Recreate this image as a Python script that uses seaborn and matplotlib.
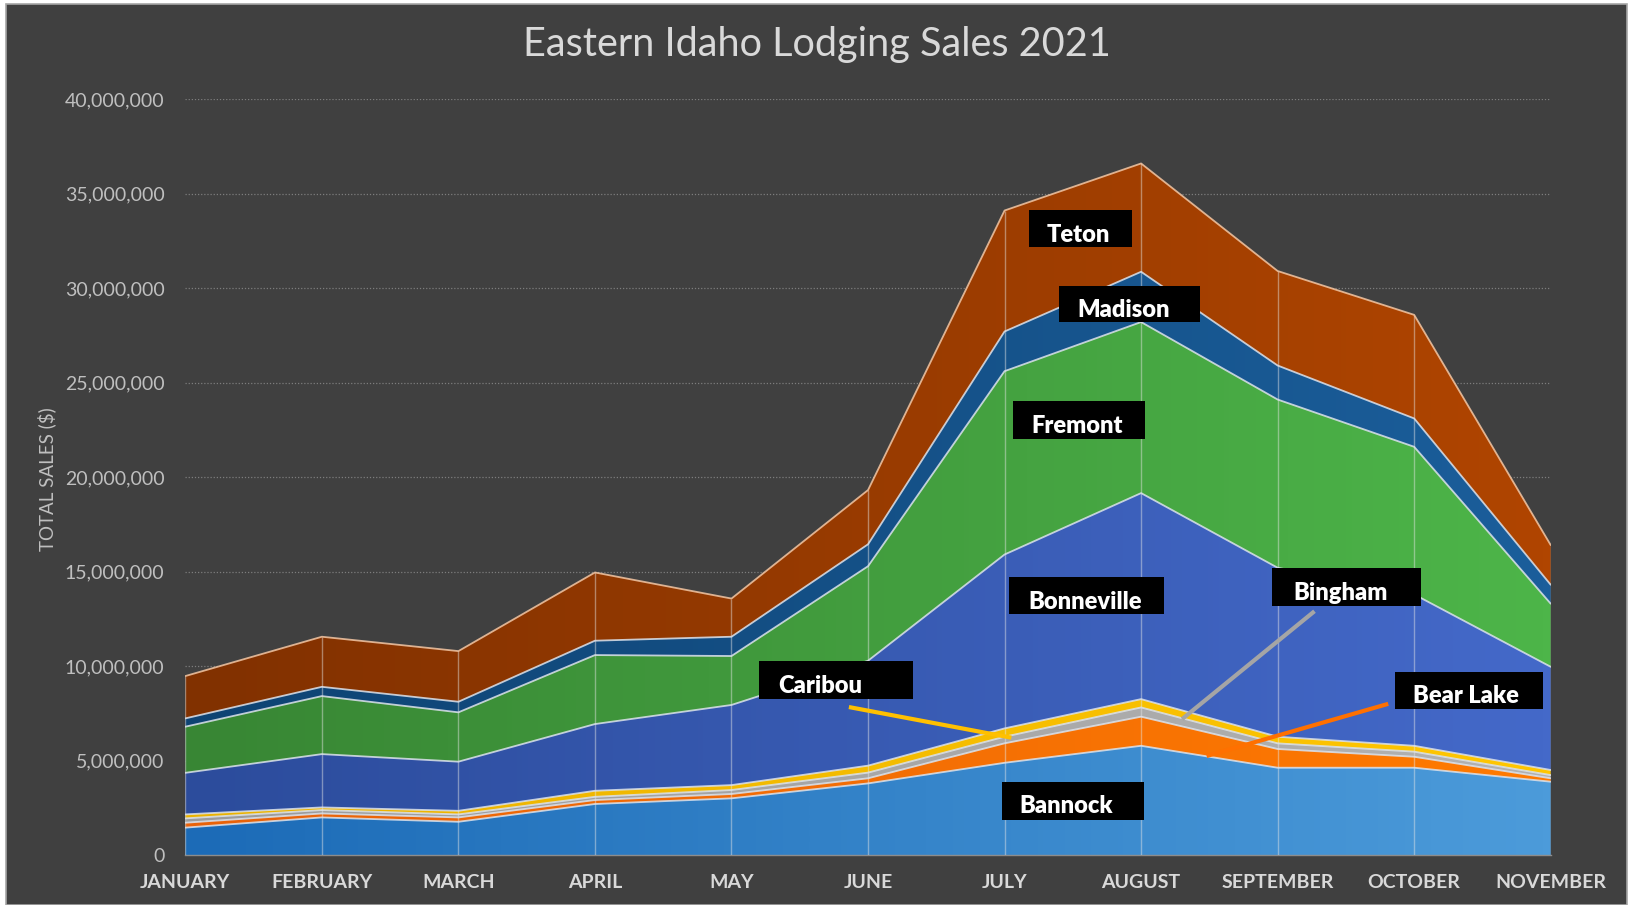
import numpy as np
import pandas as pd
import seaborn as sns
import matplotlib
matplotlib.use("Agg")
import matplotlib.pyplot as plt
from matplotlib.patches import Rectangle, Polygon
from matplotlib.colors import LinearSegmentedColormap
from matplotlib.ticker import FuncFormatter, MultipleLocator

# monthly lodging sales per county (millions of $)
months = ["JANUARY", "FEBRUARY", "MARCH", "APRIL", "MAY", "JUNE",
          "JULY", "AUGUST", "SEPTEMBER", "OCTOBER", "NOVEMBER"]
bannock = [1.45, 1.99, 1.76, 2.70, 3.00, 3.79, 4.88, 5.78, 4.62, 4.62, 3.88]
bear_lake = [0.26, 0.21, 0.23, 0.21, 0.23, 0.27, 1.03, 1.54, 0.99, 0.58, 0.18]
bingham = [0.23, 0.18, 0.16, 0.17, 0.21, 0.30, 0.35, 0.49, 0.30, 0.27, 0.17]
caribou = [0.21, 0.14, 0.19, 0.32, 0.26, 0.37, 0.44, 0.44, 0.35, 0.31, 0.27]
bonneville = [2.20, 2.82, 2.60, 3.53, 4.24, 5.55, 9.20, 10.90, 8.94, 8.01, 5.46]
fremont = [2.44, 3.07, 2.61, 3.65, 2.59, 5.00, 9.70, 9.05, 8.90, 7.81, 3.34]
madison = [0.44, 0.49, 0.56, 0.76, 1.02, 1.16, 2.10, 2.66, 1.80, 1.50, 1.00]
teton = [2.24, 2.65, 2.68, 3.61, 2.02, 2.87, 6.40, 5.73, 5.00, 5.48, 2.10]

counties = ["Bannock", "Bear Lake", "Bingham", "Caribou",
            "Bonneville", "Fremont", "Madison", "Teton"]
series = [bannock, bear_lake, bingham, caribou, bonneville, fremont, madison, teton]

# gradient colours (left -> right), like the Excel fill
grad_colors = {
    "Bannock": ("#1c6bb7", "#4c9bda"),
    "Bear Lake": ("#e8620a", "#ff7a00"),
    "Bingham": ("#9c9c9c", "#b2b2b2"),
    "Caribou": ("#eab200", "#ffc600"),
    "Bonneville": ("#2c4c9c", "#4469c9"),
    "Fremont": ("#388634", "#4db549"),
    "Madison": ("#0e4373", "#1b5e9b"),
    "Teton": ("#813100", "#b04500"),
}

# label boxes: (name, box x0, x1, y0, y1, text x, text y) in month index / millions
labels = [
    ("Teton", 6.18, 6.93, 32.17, 34.15, 6.54, 32.8),
    ("Madison", 6.40, 7.43, 28.19, 30.12, 6.87, 28.86),
    ("Fremont", 6.06, 7.03, 22.01, 24.00, 6.53, 22.68),
    ("Bonneville", 6.03, 7.17, 12.74, 14.73, 6.59, 13.41),
    ("Bingham", 7.96, 9.05, 13.19, 15.17, 8.46, 13.85),
    ("Caribou", 4.20, 5.33, 8.28, 10.26, 4.65, 8.94),
    ("Bear Lake", 8.86, 9.94, 7.72, 9.71, 9.38, 8.39),
    ("Bannock", 5.98, 7.02, 1.88, 3.86, 6.45, 2.59),
]
# leader lines: (x0, y0, x1, y1, colour)
leaders = [
    (4.86, 7.83, 6.05, 6.21, "#ffc000"),
    (8.27, 12.9, 7.30, 7.19, "#a5a5a5"),
    (8.81, 8.0, 7.48, 5.24, "#ff7000"),
]

sns.set_theme(style="dark")
plt.rcParams["font.family"] = ["Lato", "DejaVu Sans"]

x = np.arange(len(months))
df = pd.DataFrame({name: np.array(vals) * 1e6 for name, vals in zip(counties, series)})
cum = df.cumsum(axis=1)

fig = plt.figure(figsize=(16.33, 9.05), dpi=100, facecolor="white")
fig.patches.append(Rectangle((6 / 1633, 0), 1621 / 1633, 901 / 905, transform=fig.transFigure,
                             facecolor="#404040", edgecolor="#a6a6a6", lw=1.2, zorder=-1))
ax = fig.add_axes([0.1135, 0.0552, 0.9496 - 0.1135, 0.8906 - 0.0552])
ax.set_facecolor("none")

ymax = 40e6
grad = np.linspace(0, 1, 256).reshape(1, -1)
lower = np.zeros(len(x))
for name in counties:
    upper = cum[name].values
    verts = np.vstack([np.column_stack([x, upper]), np.column_stack([x[::-1], lower[::-1]])])
    poly = Polygon(verts, closed=True, facecolor="none", edgecolor="none")
    ax.add_patch(poly)
    cmap = LinearSegmentedColormap.from_list(name, grad_colors[name])
    im = ax.imshow(grad, cmap=cmap, aspect="auto", extent=[x[0], x[-1], 0, ymax],
                   origin="lower", zorder=2, interpolation="bilinear")
    im.set_clip_path(poly)
    lower = upper

# vertical month lines inside the filled area
total = cum[counties[-1]].values
ax.vlines(x, 0, total, color="#e6e6e6", alpha=0.45, lw=1.0, zorder=3)

# boundary lines on top of each layer
for name in counties:
    edge = "#f4c8a6" if name == "Teton" else "#dde4ee"
    sns.lineplot(x=x, y=cum[name].values, ax=ax, color=edge, lw=1.3, alpha=0.85, zorder=4)

for x0, y0, x1, y1, col in leaders:
    ax.plot([x0, x1], [y0 * 1e6, y1 * 1e6], color=col, lw=3, solid_capstyle="butt", zorder=5)

for name, bx0, bx1, by0, by1, tx, ty in labels:
    ax.add_patch(Rectangle((bx0, by0 * 1e6), bx1 - bx0, (by1 - by0) * 1e6,
                           facecolor="black", edgecolor="none", zorder=6))
    ax.text(tx, ty * 1e6, name, color="white", fontsize=17, fontweight="heavy",
            ha="center", va="center", zorder=7)

ax.set_xlim(0, len(months) - 1)
ax.set_ylim(0, ymax)
ax.yaxis.set_major_locator(MultipleLocator(5e6))
ax.yaxis.set_major_formatter(FuncFormatter(lambda v, p: f"{v:,.0f}"))
ax.grid(axis="y", color="#7d7d7d", ls=(0, (1, 1.5)), lw=0.9, zorder=0)
ax.grid(axis="x", visible=False)
ax.set_xticks(x)
ax.set_xticklabels(months)
ax.tick_params(axis="x", colors="#d9d9d9", labelsize=14, pad=14, length=0)
ax.tick_params(axis="y", colors="#bfbfbf", labelsize=14, pad=15, length=0)
for lab in ax.get_xticklabels():
    lab.set_fontweight("bold")
for side in ["top", "left", "right"]:
    ax.spines[side].set_visible(False)
ax.spines["bottom"].set_color("#8c8c8c")
ax.spines["bottom"].set_linewidth(1.0)
ax.set_xlabel("")
ax.set_ylabel("")

fig.text(0.5, 0.9505, "Eastern Idaho Lodging Sales 2021", color="#d9d9d9",
         fontsize=28.5, ha="center", va="center")
fig.text(0.0288, 0.4707, "TOTAL SALES ($)", color="#bfbfbf", fontsize=13.5,
         rotation=90, ha="center", va="center")

fig.savefig("out.png", dpi=100, facecolor=fig.get_facecolor())
